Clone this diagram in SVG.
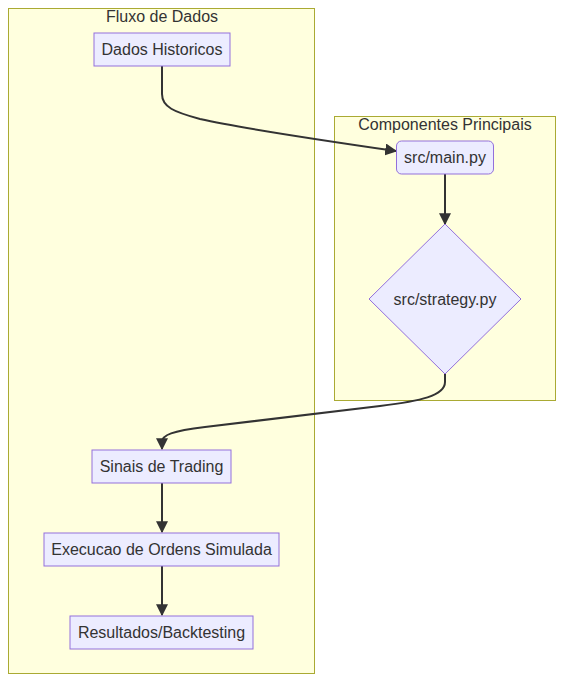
<svg xmlns="http://www.w3.org/2000/svg" width="564" height="682" viewBox="0 0 564 682">
<style>
.cluster{fill:#ffffde;stroke:#aaaa33;stroke-width:1}
.node{fill:#ECECFF;stroke:#9370DB;stroke-width:1}
.lbl{font-family:"Liberation Sans",Arial,sans-serif;font-size:16px;fill:#333;text-anchor:middle;dominant-baseline:central}
.edge{fill:none;stroke:#333;stroke-width:2}
</style>
<defs>
<marker id="arrow" viewBox="0 0 10 10" refX="9" refY="5" markerWidth="6" markerHeight="6" markerUnits="strokeWidth" orient="auto">
<path d="M0,0 L10,5 L0,10 z" fill="#333"/>
</marker>
</defs>
<g id="cluster-fluxo">
<rect class="cluster" x="8.5" y="8.5" width="306" height="665"/>
<text class="lbl" x="162" y="16">Fluxo de Dados</text>
</g>
<g id="cluster-componentes">
<rect class="cluster" x="334.5" y="116.5" width="221" height="284"/>
<text class="lbl" x="445" y="124">Componentes Principais</text>
</g>
<g id="connectors">
<path class="edge" d="M162,66 V94 C162,107 174,112 200,119 C240,128 320,140 396,151" marker-end="url(#arrow)"/>
<path class="edge" d="M445,174 V224" marker-end="url(#arrow)"/>
<path class="edge" d="M445,374 V382 C445,396 420,401 380,406 L205,427 C172,431 162,435 162,442 V449" marker-end="url(#arrow)"/>
<path class="edge" d="M162,483 V532" marker-end="url(#arrow)"/>
<path class="edge" d="M162,566 V615" marker-end="url(#arrow)"/>
</g>
<g id="node-dados">
<rect class="node" x="94" y="33" width="136" height="33"/>
<text class="lbl" x="162" y="49.5">Dados Historicos</text>
</g>
<g id="node-main">
<rect class="node" x="396.5" y="141" width="97" height="33" rx="5" ry="5"/>
<text class="lbl" x="445" y="157.5">src/main.py</text>
</g>
<g id="node-strategy">
<polygon class="node" points="445,224 521,299 445,374 369,299"/>
<text class="lbl" x="445" y="299">src/strategy.py</text>
</g>
<g id="node-sinais">
<rect class="node" x="92" y="450" width="139" height="33"/>
<text class="lbl" x="161.5" y="466.5">Sinais de Trading</text>
</g>
<g id="node-execucao">
<rect class="node" x="44" y="533" width="235" height="33"/>
<text class="lbl" x="161.5" y="549.5">Execucao de Ordens Simulada</text>
</g>
<g id="node-resultados">
<rect class="node" x="70" y="616" width="183" height="33"/>
<text class="lbl" x="161.5" y="632.5">Resultados/Backtesting</text>
</g>
</svg>
